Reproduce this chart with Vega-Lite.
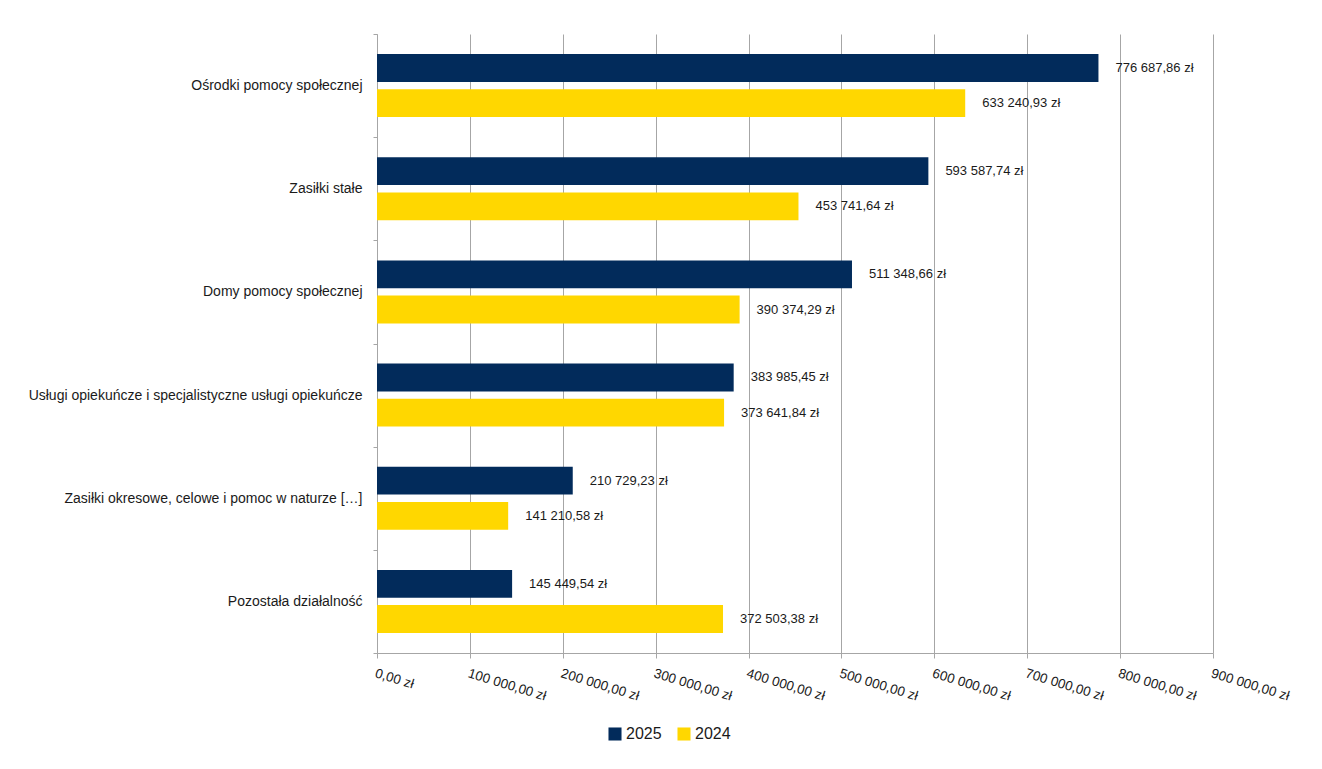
{
  "$schema": "https://vega.github.io/schema/vega-lite/v6.json",
  "width": 836,
  "height": 619,
  "autosize": {"type": "none"},
  "padding": {"left": 377, "top": 34, "right": 109, "bottom": 116},
  "background": "white",
  "config": {
    "font": "Liberation Sans",
    "view": {"stroke": null},
    "locale": {"number": {"decimal": ",", "thousands": " ", "grouping": [3], "currency": ["", " zł"]}}
  },
  "data": {
    "values": [
      {"cat": "Ośrodki pomocy społecznej", "year": "2025", "value": 776687.86},
      {"cat": "Ośrodki pomocy społecznej", "year": "2024", "value": 633240.93},
      {"cat": "Zasiłki stałe", "year": "2025", "value": 593587.74},
      {"cat": "Zasiłki stałe", "year": "2024", "value": 453741.64},
      {"cat": "Domy pomocy społecznej", "year": "2025", "value": 511348.66},
      {"cat": "Domy pomocy społecznej", "year": "2024", "value": 390374.29},
      {"cat": "Usługi opiekuńcze i specjalistyczne usługi opiekuńcze", "year": "2025", "value": 383985.45},
      {"cat": "Usługi opiekuńcze i specjalistyczne usługi opiekuńcze", "year": "2024", "value": 373641.84},
      {"cat": "Zasiłki okresowe, celowe i pomoc w naturze […]", "year": "2025", "value": 210729.23},
      {"cat": "Zasiłki okresowe, celowe i pomoc w naturze […]", "year": "2024", "value": 141210.58},
      {"cat": "Pozostała działalność", "year": "2025", "value": 145449.54},
      {"cat": "Pozostała działalność", "year": "2024", "value": 372503.38}
    ]
  },
  "encoding": {
    "y": {
      "field": "cat", "type": "nominal", "sort": null,
      "scale": {"paddingInner": 0, "paddingOuter": 0},
      "axis": {
        "title": null, "tickBand": "extent", "domainColor": "#A6A6A6", "tickColor": "#A6A6A6",
        "tickSize": 4, "labelPadding": 11, "labelFontSize": 14, "labelColor": "#1a1a1a",
        "labelLimit": 400, "grid": false
      }
    },
    "yOffset": {
      "field": "year", "type": "nominal", "sort": ["2025", "2024"],
      "scale": {"paddingInner": 0.21, "paddingOuter": 0.57}
    },
    "x": {
      "field": "value", "type": "quantitative",
      "scale": {"domain": [0, 900000], "nice": false},
      "axis": {
        "title": null, "values": [0, 100000, 200000, 300000, 400000, 500000, 600000, 700000, 800000, 900000],
        "format": "$,.2f", "grid": true, "gridColor": "#A6A6A6", "domainColor": "#A6A6A6", "tickColor": "#A6A6A6",
        "tickSize": 5, "labelAngle": 17, "labelAlign": "left", "labelBaseline": "top", "labelPadding": 8,
        "labelFontSize": 13.5, "labelColor": "#1a1a1a", "labelFlush": false, "labelOverlap": false
      }
    }
  },
  "layer": [
    {
      "mark": {"type": "bar"},
      "encoding": {
        "color": {
          "field": "year", "type": "nominal",
          "scale": {"domain": ["2025", "2024"], "range": ["#022B5B", "#FFD700"]},
          "legend": {
            "title": null, "orient": "none", "legendX": 230, "legendY": 692, "direction": "horizontal",
            "symbolType": "square", "symbolSize": 170, "symbolStrokeWidth": 0, "labelFontSize": 16,
            "labelColor": "#1a1a1a", "columnPadding": 14, "labelOffset": 3
          }
        }
      }
    },
    {
      "mark": {"type": "text", "align": "left", "baseline": "middle", "dx": 17, "fontSize": 13, "color": "#1a1a1a"},
      "encoding": {
        "text": {"field": "value", "type": "quantitative", "format": "$,.2f"}
      }
    }
  ]
}
